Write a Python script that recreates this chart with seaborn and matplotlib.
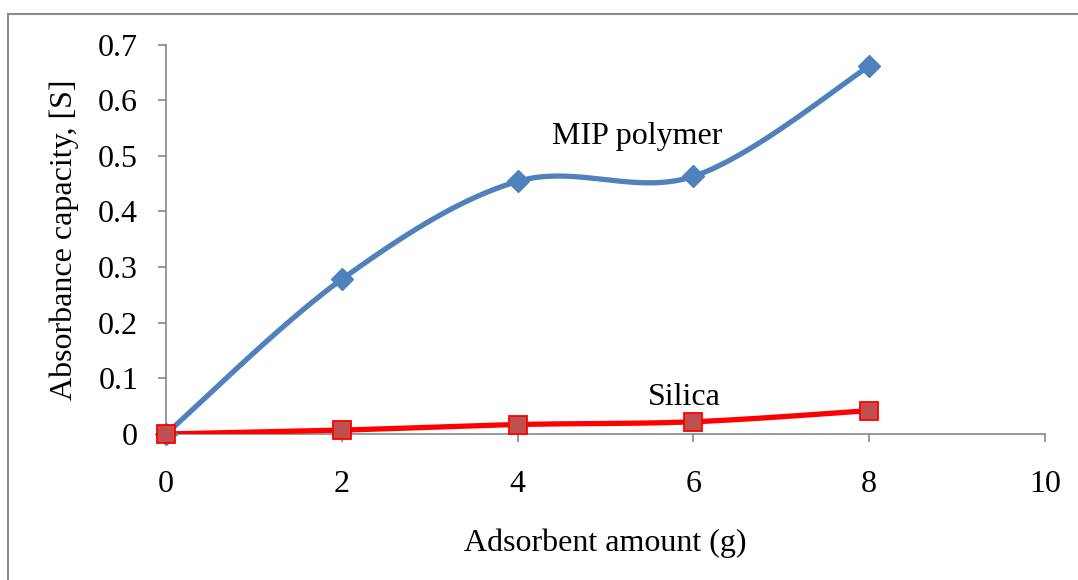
import numpy as np
import pandas as pd
import seaborn as sns
import matplotlib
matplotlib.use("Agg")
import matplotlib.pyplot as plt
from matplotlib.patches import Rectangle

# ---- data ----
amount = [0, 2, 4, 6, 8]
mip = [0.0, 0.278, 0.454, 0.463, 0.661]
silica = [0.0, 0.007, 0.017, 0.022, 0.042]
x_ticks = [0, 2, 4, 6, 8, 10]
y_ticks = [0, 0.1, 0.2, 0.3, 0.4, 0.5, 0.6, 0.7]
y_ticklabels = ["0", "0.1", "0.2", "0.3", "0.4", "0.5", "0.6", "0.7"]

sns.set_theme(style="white")
plt.rcParams['font.family'] = ['Liberation Serif', 'DejaVu Serif']
plt.rcParams['text.color'] = 'black'
plt.rcParams['axes.labelcolor'] = 'black'


def smooth(xs, ys, n=40):
    """Excel-like smoothed line (Catmull-Rom Bezier) through the data points."""
    xs = np.asarray(xs, float); ys = np.asarray(ys, float)
    P = np.column_stack([xs, ys])
    Pp = np.vstack([P[0], P, P[-1]])
    out = []
    t = np.linspace(0, 1, n)
    for i in range(len(P) - 1):
        p0, p3 = Pp[i + 1], Pp[i + 2]
        c1 = p0 + (Pp[i + 2] - Pp[i]) / 6.0
        c2 = p3 - (Pp[i + 3] - Pp[i + 1]) / 6.0
        seg = ((1 - t)[:, None] ** 3 * p0 + 3 * ((1 - t) ** 2 * t)[:, None] * c1
               + 3 * ((1 - t) * t ** 2)[:, None] * c2 + (t ** 3)[:, None] * p3)
        out.append(seg if i == 0 else seg[1:])
    s = np.vstack(out)
    return s[:, 0], s[:, 1]


W, H = 1078, 580
fig = plt.figure(figsize=(W / 100, H / 100), dpi=100)
ax = fig.add_axes([166 / W, 1 - 434 / H, (1045 - 166) / W, (434 - 44.5) / H])

blue = "#4F81BD"
red = "#FF0000"
FS = 23

mx, my = smooth(amount, mip)
sx, sy = smooth(amount, silica)
sns.lineplot(x=mx, y=my, ax=ax, color=blue, linewidth=3.8, sort=False,
             estimator=None, zorder=3)
sns.lineplot(x=sx, y=sy, ax=ax, color=red, linewidth=3.8, sort=False,
             estimator=None, zorder=3)
ax.plot(amount, mip, linestyle="none", marker="D", markersize=11,
        color=blue, markeredgecolor=blue, zorder=4, clip_on=False)
ax.plot(amount, silica, linestyle="none", marker="s", markersize=13.5,
        markerfacecolor="#C0504D", markeredgecolor=red, markeredgewidth=1.3,
        zorder=4, clip_on=False)

ax.set_xlim(0, 10)
ax.set_ylim(0, 0.7)
ax.set_xticks(x_ticks)
ax.set_xticklabels([str(v) for v in x_ticks])
ax.set_yticks(y_ticks)
ax.set_yticklabels(y_ticklabels)

spine_col = "#868686"
for s in ["top", "right"]:
    ax.spines[s].set_visible(False)
for s in ["left", "bottom"]:
    ax.spines[s].set_color(spine_col)
    ax.spines[s].set_linewidth(1.2)
ax.tick_params(axis="both", which="major", direction="out", length=6,
               width=1.2, color=spine_col, labelsize=FS, labelcolor="black")
ax.tick_params(axis="x", pad=20, bottom=True)
ax.tick_params(axis="y", pad=14, left=True)
ax.grid(False)

ax.set_xlabel("Adsorbent amount (g)", fontsize=FS, labelpad=21, color="black")
ax.set_ylabel("Absorbance capacity, [S]", fontsize=FS, labelpad=14, color="black")

ax.text(5.36, 0.534, "MIP polymer", fontsize=FS, ha="center", va="center",
        color="black")
ax.text(5.9, 0.066, "Silica", fontsize=FS, ha="center", va="center",
        color="black")

fig.patches.append(Rectangle((8 / W, -0.01), 1.1, 1 - 14 / H + 0.01,
                             transform=fig.transFigure, fill=False,
                             edgecolor="#8c8c8c", linewidth=1.5))

fig.savefig("out.png", dpi=100)
